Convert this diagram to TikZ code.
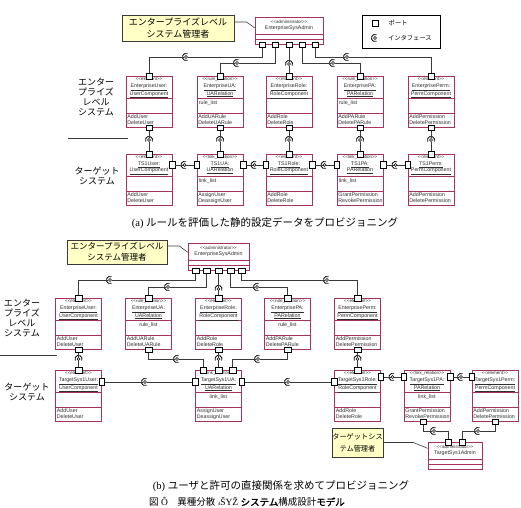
\documentclass[tikz,border=0pt]{standalone}
\definecolor{compRed}{HTML}{A8325F}
\definecolor{noteFill}{HTML}{FFFFC6}
\definecolor{lineDark}{HTML}{3A3A3A}
\definecolor{textDark}{HTML}{2E2E2E}
\usepackage{tikz}
\usetikzlibrary{positioning, calc}
\usepackage{xcolor}
\usepackage{fontspec}
\setmainfont{Liberation Serif}
\newfontfamily\jp[AutoFakeBold=2]{Noto Sans CJK JP}
\newfontfamily\ui{Liberation Sans}

\tikzset{
  compbox/.style={draw=compRed, line width=0.6pt, fill=white, anchor=north,
                  minimum width=46pt, minimum height=51pt, inner sep=0pt},
  adminbox/.style={draw=compRed, line width=0.6pt, fill=white, anchor=north,
                   minimum height=27pt, inner sep=0pt},
  compedge/.style={draw=compRed, line width=0.5pt},
  comptext/.style={font=\ui\fontsize{5.3}{6.3}\selectfont, text=textDark, inner sep=0pt, align=center},
  port/.style={draw=black, fill=white, line width=0.5pt, minimum width=6.5pt,
               minimum height=5.5pt, inner sep=0pt},
  sideport/.style={port, minimum width=5.5pt, minimum height=7pt},
  iface/.style={circle, draw=black, fill=white, line width=0.6pt, minimum size=3pt, inner sep=0pt},
  socket/.style={draw=black, line width=0.8pt},
  conn/.style={draw=lineDark, line width=0.6pt},
  sepline/.style={draw=lineDark, line width=0.8pt},
  note/.style={draw=lineDark, fill=noteFill, line width=0.7pt, align=center, inner sep=0pt},
  legendbox/.style={draw=black, line width=0.6pt, inner sep=0pt},
  legtext/.style={font=\jp\fontsize{6.3}{7}\selectfont, inner sep=0pt},
  sidelabel/.style={font=\jp\fontsize{9}{10}\selectfont, align=center, inner sep=0pt},
  caption/.style={font=\fontsize{10.5}{12}\selectfont, inner sep=0pt},
}
\newcommand{\stereo}[1]{{\fontsize{4.5}{5}\selectfont<<#1>>}}

% component box: name, centre x, top y, stereotype, name lines, attribute, operations
\newcommand{\umlcomp}[9]{%
  \node[compbox] (#1) at (#2,#3) {};
  \draw[compedge] ([yshift=-22pt]#1.north west) -- ([yshift=-22pt]#1.north east)
    ([yshift=-37pt]#1.north west) -- ([yshift=-37pt]#1.north east);
  \node[comptext, anchor=north] at ([yshift=-1.5pt]#1.north) {\stereo{#4}\\\underline{#5}\\\underline{#6}};
  \node[comptext, anchor=north west, text width=42pt, align=left] at ([shift={(2pt,-24pt)}]#1.north west) {#7};
  \node[comptext, anchor=north west, text width=44pt, align=left] at ([shift={(1.5pt,-38.3pt)}]#1.north west) {#8\\#9};
}
% administrator box: name, centre x, top y, width, title
\newcommand{\umladmin}[5]{%
  \node[adminbox, minimum width=#4pt] (#1) at (#2,#3) {};
  \draw[compedge] ([yshift=-17pt]#1.north west) -- ([yshift=-17pt]#1.north east)
    ([yshift=-22pt]#1.north west) -- ([yshift=-22pt]#1.north east);
  \node[comptext] at ([yshift=-8.5pt]#1.north) {\stereo{administrator}\\#5};
}
% interface: name, position, direction the socket opens to
\newcommand{\iface}[3]{%
  \node[iface] (#1) at (#2) {};
  \draw[socket] ([shift={({#3+65}:3.6pt)}]#1.center) arc[start angle=#3+65, end angle=#3+295, radius=3.6pt];
}

\begin{document}
\begin{tikzpicture}[x=1pt, y=-1pt]
  \useasboundingbox[fill=white] (0,0) rectangle (521,507);

  % ---- (a) ----
  \node[note, minimum width=112pt, minimum height=26pt, font=\jp\fontsize{9}{12}\selectfont]
    (a-note) at (178,28) {エンタープライズレベル\\システム管理者};
  \umladmin{a-adm}{289}{17}{68}{EnterpriseSysAdmin}
  \draw[conn] ([yshift=6pt]a-note.east) -- ++(12,0) -- ([yshift=3pt]a-adm.west);

  \node[legendbox, minimum width=78pt, minimum height=33pt] (leg) at (401,31.5) {};
  \node[port] (leg-p) at (375,23) {};
  \node[legtext, right=10pt of leg-p] {ポート};
  \iface{leg-i}{375,38}{0}
  \node[legtext, right=11pt of leg-i] {インタフェース};

  \node[sidelabel] (a-lab-ent) at (96,97) {エンター\\プライズ\\レベル\\システム};
  \node[sidelabel] (a-lab-tgt) at (97,176) {ターゲット\\システム};
  \draw[sepline] (68,138) -- (128,138);

  \umlcomp{a-eu}{149}{76}{element}{EnterpriseUser:}{UserComponent}{}{AddUser}{DeleteUser}
  \umlcomp{a-eua}{220}{76}{rule\_relation}{EnterpriseUA:}{UARelation}{rule\_list}{AddUARule}{DeleteUARule}
  \umlcomp{a-er}{289}{76}{element}{EnterpriseRole:}{RoleComponent}{}{AddRole}{DeleteRole}
  \umlcomp{a-epa}{360}{76}{rule\_relation}{EnterprisePA:}{PARelation}{rule\_list}{AddPARule}{DeletePARule}
  \umlcomp{a-ep}{431}{76}{element}{EnterprisePerm:}{PermComponent}{}{AddPermission}{DeletePermission}

  \umlcomp{a-tu}{149}{154}{element}{TS1User:}{UserComponent}{}{AddUser}{DeleteUser}
  \umlcomp{a-tua}{220}{154}{link\_relation}{TS1UA:}{UARelation}{link\_list}{AssignUser}{DeassignUser}
  \umlcomp{a-tr}{289}{154}{element}{TS1Role:}{RoleComponent}{}{AddRole}{DeleteRole}
  \umlcomp{a-tpa}{360}{154}{link\_relation}{TS1PA:}{PARelation}{link\_list}{GrantPermission}{RevokePermission}
  \umlcomp{a-tp}{431}{154}{element}{TS1Perm:}{PermComponent}{}{AddPermission}{DeletePermission}

  \node[port] (a-ap1) at ([xshift=-27pt]a-adm.south) {};
  \node[port] (a-ap2) at ([xshift=-14pt]a-adm.south) {};
  \node[port] (a-ap3) at (a-adm.south) {};
  \node[port] (a-ap4) at ([xshift=13pt]a-adm.south) {};
  \node[port] (a-ap5) at ([xshift=26pt]a-adm.south) {};
  \foreach \c in {eu,eua,er,epa,ep}{
    \node[port] (a-\c-t) at (a-\c.north) {};
    \node[port] (a-\c-b) at (a-\c.south) {};
  }
  \foreach \c in {tu,tua,tr,tpa,tp}
    \node[port] (a-\c-t) at (a-\c.north) {};
  \foreach \c in {tu,tua,tr,tpa}
    \node[sideport] (a-\c-r) at ([yshift=-11pt]a-\c.north east) {};
  \foreach \c in {tua,tr,tpa,tp}
    \node[sideport] (a-\c-l) at ([yshift=-11pt]a-\c.north west) {};

  \iface{a-i1}{186,57}{0}
  \iface{a-i2}{237,63}{0}
  \iface{a-i3}{289,64}{270}
  \iface{a-i4}{333,63}{0}
  \iface{a-i5}{347,57}{0}
  \iface{a-m1}{149,140}{270}
  \iface{a-m2}{220,140}{270}
  \iface{a-m3}{289,140}{270}
  \iface{a-m4}{360,140}{270}
  \iface{a-m5}{431,140}{270}
  \iface{a-h1}{184.5,165}{0}
  \iface{a-h2}{254.5,165}{0}
  \iface{a-h3}{324.5,165}{0}
  \iface{a-h4}{395.5,165}{0}

  \draw[conn] (a-ap1) |- (a-i1) -| (a-eu-t);
  \draw[conn] (a-ap2) |- (a-i2) -| (a-eua-t);
  \draw[conn] (a-ap3) -- (a-i3) -- (a-er-t);
  \draw[conn] (a-ap4) |- (a-i4) -| (a-epa-t);
  \draw[conn] (a-ap5) |- (a-i5) -| (a-ep-t);
  \draw[conn] (a-eu-b) -- (a-m1) -- (a-tu-t);
  \draw[conn] (a-eua-b) -- (a-m2) -- (a-tua-t);
  \draw[conn] (a-er-b) -- (a-m3) -- (a-tr-t);
  \draw[conn] (a-epa-b) -- (a-m4) -- (a-tpa-t);
  \draw[conn] (a-ep-b) -- (a-m5) -- (a-tp-t);
  \draw[conn] (a-tu-r) -- (a-h1) -- (a-tua-l);
  \draw[conn] (a-tua-r) -- (a-h2) -- (a-tr-l);
  \draw[conn] (a-tr-r) -- (a-h3) -- (a-tpa-l);
  \draw[conn] (a-tpa-r) -- (a-h4) -- (a-tp-l);

  \node[caption] (a-cap) at (265,223) {(a) {\jp ルールを評価した静的設定データをプロビジョニング}};

  % ---- (b) ----
  \node[note, minimum width=100pt, minimum height=24pt, font=\jp\fontsize{8.5}{11}\selectfont]
    (b-note) at (117,252) {エンタープライズレベル\\システム管理者};
  \umladmin{b-adm}{218.5}{243}{61}{EnterpriseSysAdmin}
  \draw[conn] ([yshift=6pt]b-note.east) -- ++(12,0) -- ([yshift=4.5pt]b-adm.west);

  \node[sidelabel] (b-lab-ent) at (22,318) {エンター\\プライズ\\レベル\\システム};
  \node[sidelabel] (b-lab-tgt) at (27,392) {ターゲット\\システム};
  \draw[sepline] (0,355) -- (57,355);

  \umlcomp{b-eu}{78.5}{298}{element}{EnterpriseUser:}{UserComponent}{}{AddUser}{DeleteUser}
  \umlcomp{b-eua}{148.5}{298}{rule\_relation}{EnterpriseUA:}{UARelation}{\centerline{rule\_list}}{AddUARule}{DeleteUARule}
  \umlcomp{b-er}{218.5}{298}{element}{EnterpriseRole:}{RoleComponent}{}{AddRole}{DeleteRole}
  \umlcomp{b-epa}{287.5}{298}{rule\_relation}{EnterprisePA:}{PARelation}{\centerline{rule\_list}}{AddPARule}{DeletePARule}
  \umlcomp{b-ep}{357.5}{298}{element}{EnterprisePerm:}{PermComponent}{}{AddPermission}{DeletePermission}

  \umlcomp{b-tu}{78.5}{370}{element}{TargetSys1User:}{UserComponent}{}{AddUser}{DeleteUser}
  \umlcomp{b-tua}{218.5}{370}{link\_relation}{TargetSys1UA:}{UARelation}{\centerline{link\_list}}{AssignUser}{DeassignUser}
  \umlcomp{b-tr}{357.5}{370}{element}{TargetSys1Role:}{RoleComponent}{}{AddRole}{DeleteRole}
  \umlcomp{b-tpa}{427}{370}{link\_relation}{TargetSys1PA:}{PARelation}{\centerline{link\_list}}{GrantPermission}{RevokePermission}
  \umlcomp{b-tp}{495}{370}{element}{TargetSys1Perm:}{PermComponent}{}{AddPermission}{DeletePermission}

  \umladmin{b-ta}{455}{442}{54}{TargetSys1Admin}
  \node[note, minimum width=51pt, minimum height=29pt, font=\jp\fontsize{7.2}{12}\selectfont]
    (b-note2) at (357.5,442.5) {ターゲットシス\\テム管理者};
  \draw[conn] (b-note2.east) -- ++(30,0) -- ([yshift=7.5pt]b-ta.west);

  \node[port] (b-ap1) at ([xshift=-23pt]b-adm.south) {};
  \node[port] (b-ap2) at ([xshift=-12pt]b-adm.south) {};
  \node[port] (b-ap3) at (b-adm.south) {};
  \node[port] (b-ap4) at ([xshift=12pt]b-adm.south) {};
  \node[port] (b-ap5) at ([xshift=23pt]b-adm.south) {};
  \foreach \c in {eu,eua,er,epa,ep}{
    \node[port] (b-\c-t) at (b-\c.north) {};
    \node[port] (b-\c-b) at (b-\c.south) {};
  }
  \node[port] (b-tu-t) at (b-tu.north) {};
  \node[port] (b-tr-t) at (b-tr.north) {};
  \node[port] (b-tua-t1) at ([xshift=-15.5pt]b-tua.north) {};
  \node[port] (b-tua-t2) at (b-tua.north) {};
  \node[port] (b-tua-t3) at ([xshift=14pt]b-tua.north) {};
  \node[sideport] (b-tu-r) at ([yshift=-12pt]b-tu.north east) {};
  \node[sideport] (b-tua-l) at ([yshift=-12pt]b-tua.north west) {};
  \node[sideport] (b-tua-r) at ([yshift=-12pt]b-tua.north east) {};
  \node[sideport] (b-tr-l) at ([yshift=-12pt]b-tr.north west) {};
  \node[sideport] (b-tr-r) at ([yshift=-7pt]b-tr.north east) {};
  \node[sideport] (b-tpa-l) at ([yshift=-7pt]b-tpa.north west) {};
  \node[sideport] (b-tpa-r) at ([yshift=-7pt]b-tpa.north east) {};
  \node[sideport] (b-tp-l) at ([yshift=-7pt]b-tp.north west) {};
  \node[port] (b-tpa-b) at ([xshift=-4pt]b-tpa.south) {};
  \node[port] (b-tp-b) at (b-tp.south) {};
  \node[port] (b-ta-t1) at ([xshift=-7pt]b-ta.north) {};
  \node[port] (b-ta-t2) at ([xshift=7pt]b-ta.north) {};

  \iface{b-i1}{110,280}{0}
  \iface{b-i2}{168,287}{0}
  \iface{b-i3}{218.5,289}{270}
  \iface{b-i4}{257,287}{0}
  \iface{b-i5}{327,280}{0}
  \iface{b-m1}{78.5,359}{270}
  \iface{b-m2}{177,359}{0}
  \iface{b-m3}{218.5,359}{270}
  \iface{b-m4}{258,359}{0}
  \iface{b-m5}{357.5,359}{270}
  \iface{b-h1}{145,382}{0}
  \iface{b-h2}{288,382}{0}
  \iface{b-h3}{392.5,377}{0}
  \iface{b-h4}{461,377}{0}
  \iface{b-g1}{434,431}{0}
  \iface{b-g2}{478,431}{0}

  \draw[conn] (b-ap1) |- (b-i1) -| (b-eu-t);
  \draw[conn] (b-ap2) |- (b-i2) -| (b-eua-t);
  \draw[conn] (b-ap3) -- (b-i3) -- (b-er-t);
  \draw[conn] (b-ap4) |- (b-i4) -| (b-epa-t);
  \draw[conn] (b-ap5) |- (b-i5) -| (b-ep-t);
  \draw[conn] (b-eu-b) -- (b-m1) -- (b-tu-t);
  \draw[conn] (b-eua-b) |- (b-m2) -| (b-tua-t1);
  \draw[conn] (b-er-b) -- (b-m3) -- (b-tua-t2);
  \draw[conn] (b-epa-b) |- (b-m4) -| (b-tua-t3);
  \draw[conn] (b-ep-b) -- (b-m5) -- (b-tr-t);
  \draw[conn] (b-tu-r) -- (b-h1) -- (b-tua-l);
  \draw[conn] (b-tua-r) -- (b-h2) -- (b-tr-l);
  \draw[conn] (b-tr-r) -- (b-h3) -- (b-tpa-l);
  \draw[conn] (b-tpa-r) -- (b-h4) -- (b-tp-l);
  \draw[conn] (b-tpa-b) |- (b-g1) -| (b-ta-t1);
  \draw[conn] (b-tp-b) |- (b-g2) -| (b-ta-t2);

  \node[caption] (b-cap) at (281,486) {(b) {\jp ユーザと許可の直接関係を求めてプロビジョニング}};
  \node[caption, font=\fontsize{9.5}{11}\selectfont] (fig-cap) at (247,502)
    {{\jp 図} Ô\quad{\jp 異種分散} {\fontsize{5}{5}\selectfont 4}ŠYŽ {\jp{\bfseries システム}構成設計{\bfseries モデル}}};
\end{tikzpicture}
\end{document}
